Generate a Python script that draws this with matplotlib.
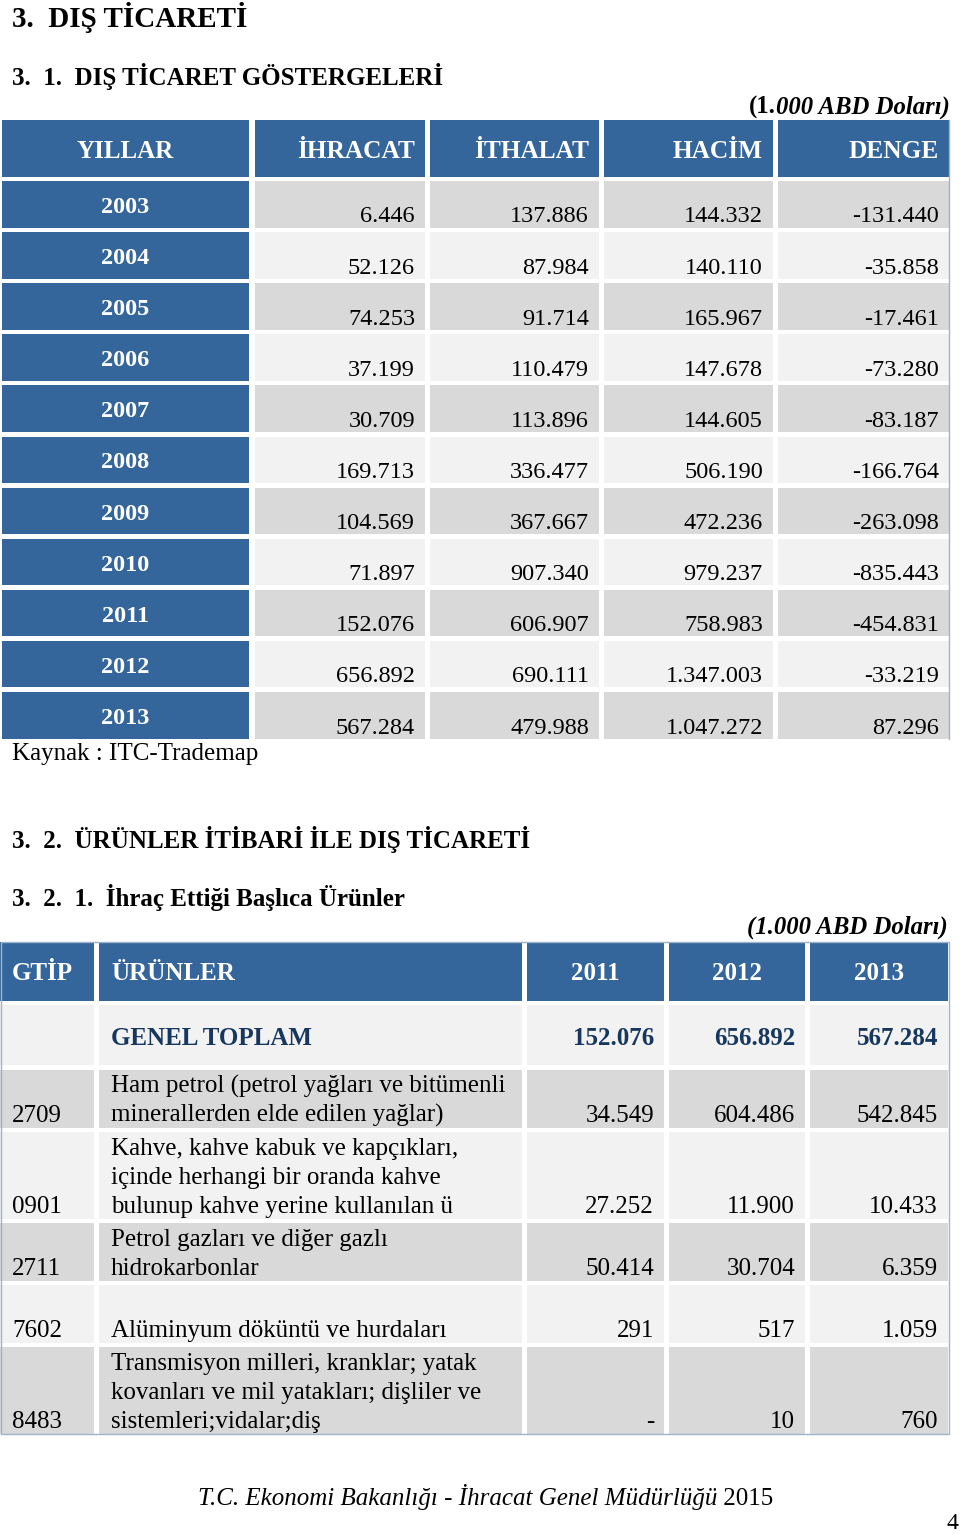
import matplotlib
matplotlib.use('Agg')
import matplotlib.pyplot as plt
from matplotlib.patches import Rectangle

plt.rcParams['font.family'] = ['Liberation Serif', 'DejaVu Serif']

# table 1: dis ticaret gostergeleri (1.000 ABD dolari)
years = [2003, 2004, 2005, 2006, 2007, 2008, 2009, 2010, 2011, 2012, 2013]
ihracat = [6446, 52126, 74253, 37199, 30709, 169713, 104569, 71897, 152076, 656892, 567284]
ithalat = [137886, 87984, 91714, 110479, 113896, 336477, 367667, 907340, 606907, 690111, 479988]
hacim = [144332, 140110, 165967, 147678, 144605, 506190, 472236, 979237, 758983, 1347003, 1047272]
denge = [-131440, -35858, -17461, -73280, -83187, -166764, -263098, -835443, -454831, -33219, 87296]
t1_headers = ['YILLAR', 'İHRACAT', 'İTHALAT', 'HACİM', 'DENGE']

# table 2: ihrac ettigi baslica urunler
t2_headers = ['GTİP', 'ÜRÜNLER', '2011', '2012', '2013']
toplam = [152076, 656892, 567284]
gtip = ['2709', '0901', '2711', '7602', '8483']
urunler = [
    'Ham petrol (petrol yağları ve bitümenli\nminerallerden elde edilen yağlar)',
    'Kahve, kahve kabuk ve kapçıkları,\niçinde herhangi bir oranda kahve\nbulunup kahve yerine kullanılan ü',
    'Petrol gazları ve diğer gazlı\nhidrokarbonlar',
    'Alüminyum döküntü ve hurdaları',
    'Transmisyon milleri, kranklar; yatak\nkovanları ve mil yatakları; dişliler ve\nsistemleri;vidalar;diş',
]
exp_2011 = [34549, 27252, 50414, 291, None]
exp_2012 = [604486, 11900, 30704, 517, 10]
exp_2013 = [542845, 10433, 6359, 1059, 760]

BLUE = '#34659b'
GRAY = '#d9d9d9'
LIGHT = '#f2f2f2'
NAVY = '#17375e'


def fmt(v):
    if v is None:
        return '-'
    return f"{v:,}".replace(',', '.')


def cell(ax, x0, x1, y0, y1, color):
    ax.add_patch(Rectangle((x0, y0), x1 - x0, y1 - y0, facecolor=color, edgecolor='none'))


fig = plt.figure(figsize=(9.6, 15.34), dpi=100)
ax = fig.add_axes([0, 0, 1, 1])
ax.set_xlim(0, 960)
ax.set_ylim(1534, 0)
ax.axis('off')

# headings
ax.text(12, 27, '3.  DIŞ TİCARETİ', fontsize=21, weight='bold', va='baseline')
ax.text(12, 85, '3.  1.  DIŞ TİCARET GÖSTERGELERİ', fontsize=18, weight='bold', va='baseline')
u1 = ax.text(950, 114, '000 ABD Doları)', fontsize=17.8, weight='bold', style='italic',
             ha='right', va='baseline')
ax.annotate('(1.', xy=(0, 0), xycoords=u1, fontsize=17.8, weight='bold', ha='right', va='bottom')

# ---- table 1 ----
t1_cols = [(2, 249), (255, 425), (430, 599), (604, 773), (778, 949)]
head_top, head_bot = 120, 177
for i, (x0, x1) in enumerate(t1_cols):
    cell(ax, x0, x1, head_top, head_bot, BLUE)
    if i == 0:
        ax.text((x0 + x1) / 2, head_top + 38, t1_headers[i], color='white', fontsize=18,
                weight='bold', ha='center', va='baseline')
    else:
        ax.text(x1 - 10, head_top + 38, t1_headers[i], color='white', fontsize=18.3,
                weight='bold', ha='right', va='baseline')

row0, pitch, rh = 181, 51.1, 46.5
cols_vals = [ihracat, ithalat, hacim, denge]
for r, yr in enumerate(years):
    top = row0 + r * pitch
    bot = top + rh
    bg = GRAY if r % 2 == 0 else LIGHT
    x0, x1 = t1_cols[0]
    cell(ax, x0, x1, top, bot, BLUE)
    ax.text((x0 + x1) / 2, top + 32, str(yr), color='white', fontsize=17.5, weight='bold',
            ha='center', va='baseline')
    for c, vals in enumerate(cols_vals):
        x0, x1 = t1_cols[c + 1]
        cell(ax, x0, x1, top, bot, bg)
        ax.text(x1 - 10, bot - 5, fmt(vals[r]), fontsize=17.5, ha='right', va='baseline')
t1_bot = row0 + (len(years) - 1) * pitch + rh
ax.plot([949, 949], [head_top, t1_bot], color='#9fb4cc', lw=1)

ax.text(12, 760, 'Kaynak : ITC-Trademap', fontsize=18, va='baseline')

# ---- section 2 ----
ax.text(12, 848, '3.  2.  ÜRÜNLER İTİBARİ İLE DIŞ TİCARETİ', fontsize=18, weight='bold', va='baseline')
ax.text(12, 906, '3.  2.  1.  İhraç Ettiği Başlıca Ürünler', fontsize=18, weight='bold', va='baseline')
ax.text(948, 934, '(1.000 ABD Doları)', fontsize=17.8, weight='bold', style='italic',
        ha='right', va='baseline')

t2_cols = [(0, 94), (99, 522), (527, 664), (669, 805), (810, 948)]
h_top, h_bot = 942, 1001
for i, (x0, x1) in enumerate(t2_cols):
    cell(ax, x0, x1, h_top, h_bot, BLUE)
    if i < 2:
        ax.text(x0 + 12, h_top + 38, t2_headers[i], color='white', fontsize=18,
                weight='bold', ha='left', va='baseline')
    else:
        ax.text((x0 + x1) / 2, h_top + 38, t2_headers[i], color='white', fontsize=18,
                weight='bold', ha='center', va='baseline')

# genel toplam row
top, bot = 1005, 1065
for i, (x0, x1) in enumerate(t2_cols):
    cell(ax, x0, x1, top, bot, LIGHT)
ax.text(t2_cols[1][0] + 12, bot - 20, 'GENEL TOPLAM', color=NAVY, fontsize=18,
        weight='bold', va='baseline')
for c, v in enumerate(toplam):
    ax.text(t2_cols[c + 2][1] - 10, bot - 20, fmt(v), color=NAVY, fontsize=18,
            weight='bold', ha='right', va='baseline')

line_h = 29
y = bot + 5
for r in range(len(gtip)):
    lines = urunler[r].split('\n')
    h = max(2, len(lines)) * line_h
    top, bot = y, y + h
    bg = GRAY if r % 2 == 0 else LIGHT
    for x0, x1 in t2_cols:
        cell(ax, x0, x1, top, bot, bg)
    base = bot - 6
    ax.text(12, base, gtip[r], fontsize=18, va='baseline')
    for k, ln in enumerate(lines):
        ax.text(t2_cols[1][0] + 12, base - (len(lines) - 1 - k) * line_h, ln, fontsize=18,
                va='baseline')
    for c, vals in enumerate([exp_2011, exp_2012, exp_2013]):
        ax.text(t2_cols[c + 2][1] - 10, base, fmt(vals[r]), fontsize=18, ha='right', va='baseline')
    y = bot + 4
ax.add_patch(Rectangle((0.5, h_top), 948, y - 4 - h_top, facecolor='none',
                       edgecolor='#9fb4cc', lw=1))

# footer
f1 = ax.text(198, 1505, 'T.C. Ekonomi Bakanlığı - İhracat Genel Müdürlüğü', fontsize=18,
             style='italic', va='baseline')
ax.annotate(' 2015', xy=(1, 0), xycoords=f1, fontsize=18, ha='left', va='bottom')
ax.text(958, 1529, '4', fontsize=17, ha='right', va='baseline')

fig.savefig('out.png', dpi=100)
